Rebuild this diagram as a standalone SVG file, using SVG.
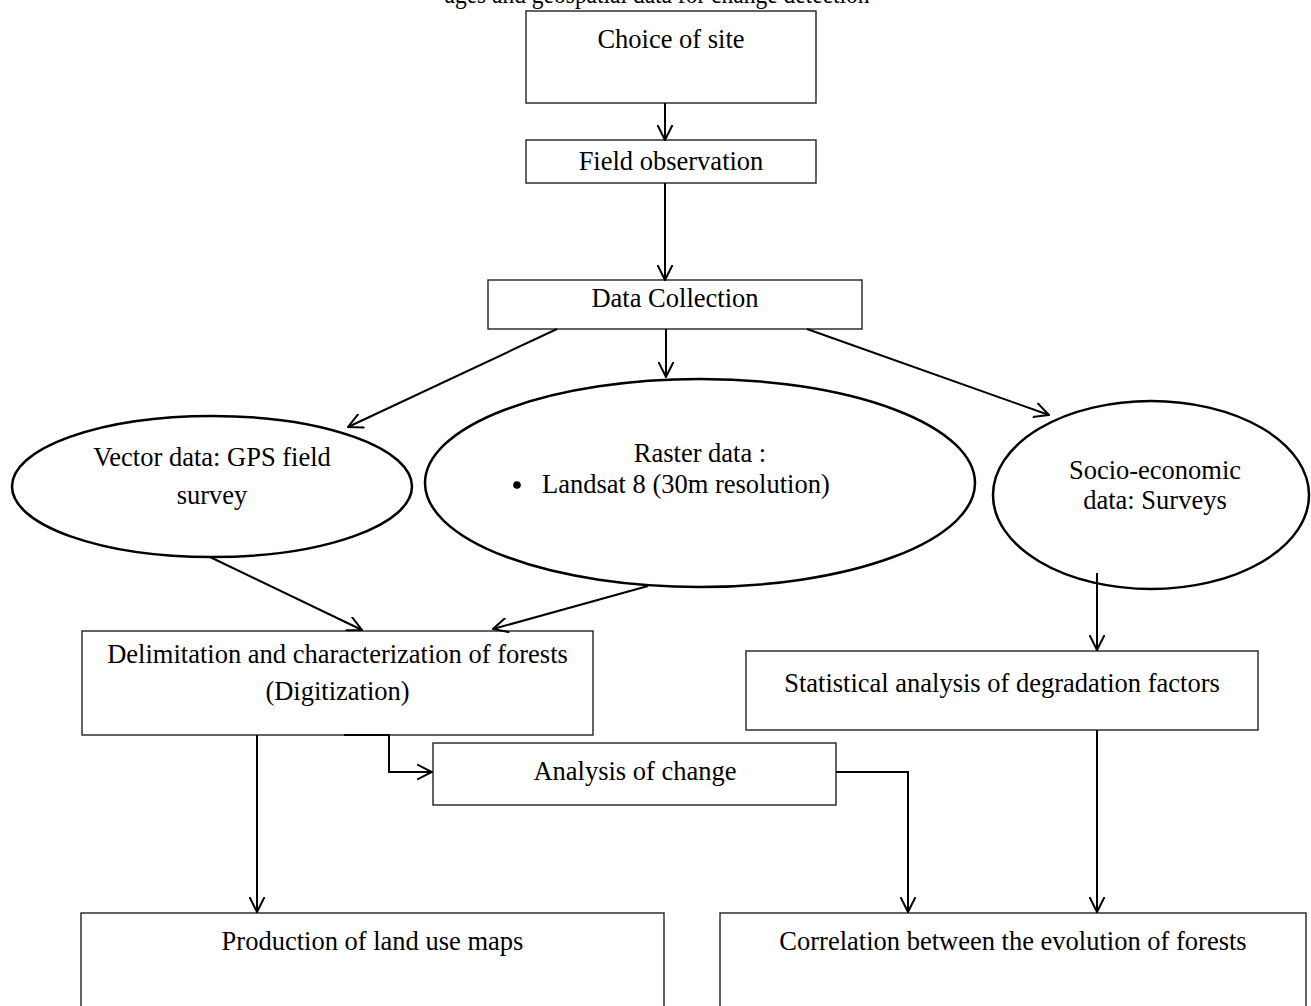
<svg xmlns="http://www.w3.org/2000/svg" width="1311" height="1006" viewBox="0 0 1311 1006">
  <style>
    text { font-family: "Liberation Serif", "Times New Roman", serif; font-size: 26.5px; fill: #000; }
    .c { text-anchor: middle; }
    .box { fill: #fff; stroke: #222; stroke-width: 1.4; }
    .ell { fill: #fff; stroke: #000; stroke-width: 2.5; }
    .conn { fill: none; stroke: #000; stroke-width: 2; }
  </style>
  <defs>
    <marker id="arr" viewBox="0 0 16 16" refX="15" refY="8" markerWidth="16" markerHeight="16" markerUnits="userSpaceOnUse" orient="auto">
      <path d="M0,0.5 L15,8 L0,15.5" fill="none" stroke="#000" stroke-width="2"/>
    </marker>
  </defs>
  <rect width="1311" height="1006" fill="#fff"/>

  <text id="title" class="c" x="657" y="3" textLength="425" lengthAdjust="spacingAndGlyphs">ages and geospatial data for change detection</text>

  <g id="choice-of-site">
    <rect class="box" x="526" y="11" width="290" height="92"/>
    <text class="c" x="671" y="48">Choice of site</text>
  </g>
  <g id="field-observation">
    <rect class="box" x="526" y="140" width="290" height="43"/>
    <text class="c" x="671" y="170">Field observation</text>
  </g>
  <g id="data-collection">
    <rect class="box" x="488" y="280" width="374" height="49"/>
    <text class="c" x="675" y="307">Data Collection</text>
  </g>
  <g id="vector-data">
    <ellipse class="ell" cx="212" cy="486.5" rx="200" ry="70.5"/>
    <text class="c" x="212" y="466">Vector data: GPS field</text>
    <text class="c" x="212" y="504">survey</text>
  </g>
  <g id="raster-data">
    <ellipse class="ell" cx="700" cy="483" rx="275" ry="104"/>
    <text class="c" x="700" y="462">Raster data :</text>
    <circle cx="517" cy="485" r="3.8" fill="#000"/>
    <text x="542" y="493">Landsat 8 (30m resolution)</text>
  </g>
  <g id="socio-economic-data">
    <ellipse class="ell" cx="1151" cy="495" rx="158" ry="94"/>
    <text class="c" x="1155" y="479">Socio-economic</text>
    <text class="c" x="1155" y="509">data: Surveys</text>
  </g>
  <g id="delimitation">
    <rect class="box" x="82" y="631" width="511" height="104"/>
    <text class="c" x="337.5" y="663">Delimitation and characterization of forests</text>
    <text class="c" x="337.5" y="700">(Digitization)</text>
  </g>
  <g id="statistical-analysis">
    <rect class="box" x="746" y="651" width="512" height="79"/>
    <text class="c" x="1002" y="692">Statistical analysis of degradation factors</text>
  </g>
  <g id="analysis-of-change">
    <rect class="box" x="433" y="743" width="403" height="62"/>
    <text class="c" x="635" y="780">Analysis of change</text>
  </g>
  <g id="production-of-maps">
    <rect class="box" x="81" y="913" width="583" height="120"/>
    <text class="c" x="372.5" y="950">Production of land use maps</text>
  </g>
  <g id="correlation">
    <rect class="box" x="720" y="913" width="586" height="120"/>
    <text class="c" x="1013" y="950">Correlation between the evolution of forests</text>
  </g>

  <g id="connectors">
    <line class="conn" x1="665" y1="103" x2="665" y2="140" marker-end="url(#arr)"/>
    <line class="conn" x1="665" y1="183" x2="665" y2="280" marker-end="url(#arr)"/>
    <line class="conn" x1="557" y1="329" x2="348" y2="427" marker-end="url(#arr)"/>
    <line class="conn" x1="666" y1="329" x2="666" y2="377" marker-end="url(#arr)"/>
    <line class="conn" x1="807" y1="329" x2="1049" y2="415" marker-end="url(#arr)"/>
    <line class="conn" x1="210" y1="557" x2="362" y2="630" marker-end="url(#arr)"/>
    <line class="conn" x1="648" y1="586" x2="493" y2="629" marker-end="url(#arr)"/>
    <line class="conn" x1="1097" y1="573" x2="1097" y2="650" marker-end="url(#arr)"/>
    <line class="conn" x1="257" y1="735" x2="257" y2="912" marker-end="url(#arr)"/>
    <polyline class="conn" points="344,735 389,735 389,772 432,772" marker-end="url(#arr)"/>
    <polyline class="conn" points="836,772 908,772 908,912" marker-end="url(#arr)"/>
    <line class="conn" x1="1097" y1="730" x2="1097" y2="912" marker-end="url(#arr)"/>
  </g>
</svg>
